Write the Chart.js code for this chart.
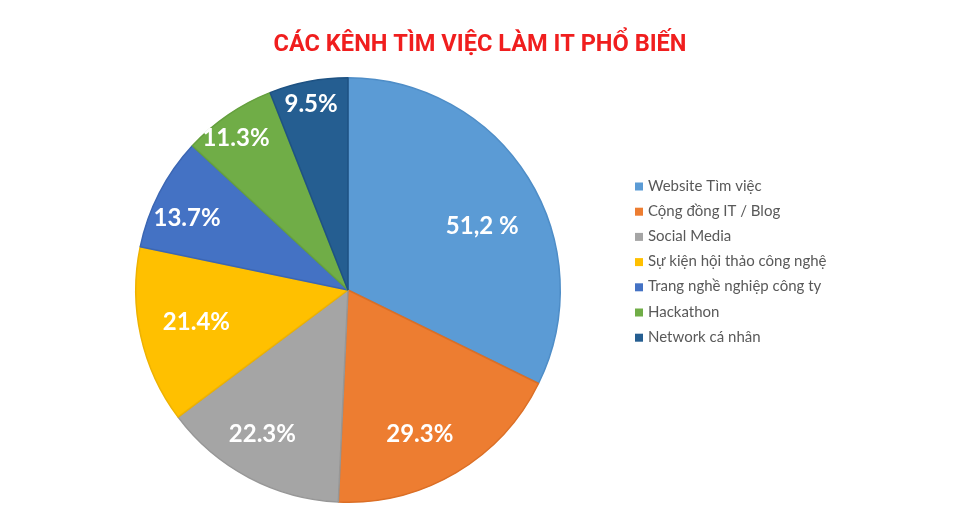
<!DOCTYPE html>
<html>
<head>
<meta charset="utf-8">
<script src="https://cdn.jsdelivr.net/npm/chart.js@4/dist/chart.umd.min.js"></script>
<style>
  html, body { margin: 0; padding: 0; background: #fff; }
  #wrap { width: 960px; height: 526px; }
</style>
</head>
<body>
<div id="wrap"><canvas id="pie" width="960" height="526"></canvas></div>
<script>
// data
var chartTitle = 'CÁC KÊNH TÌM VIỆC LÀM IT PHỔ BIẾN';
var categories = ['Website Tìm việc', 'Cộng đồng IT / Blog', 'Social Media', 'Sự kiện hội thảo công nghệ',
                  'Trang nghề nghiệp công ty', 'Hackathon', 'Network cá nhân'];
var shares = [51.2, 29.3, 22.3, 21.4, 13.7, 11.3, 9.5];
var shareLabels = ['51,2 %', '29.3%', '22.3%', '21.4%', '13.7%', '11.3%', '9.5%'];

var sliceColors = ['#5B9BD5', '#ED7D31', '#A5A5A5', '#FFC000', '#4472C4', '#70AD47', '#255E91'];
var sliceBorders = ['#4E8DC7', '#DB6F26', '#979797', '#EEB200', '#3B66B3', '#65A03E', '#1E5283'];

// where each label sits inside its slice (fraction of radius, angle nudge in degrees)
var labelRadius = [0.70, 0.76, 0.79, 0.73, 0.83, 0.89, 0.89];
var labelNudge = [6.6, 4.2, 2.8, 0.6, -3.3, -2.0, -0.5];

var sliceLabels = {
    id: 'sliceLabels',
    afterDatasetsDraw: function (chart) {
        var ctx = chart.ctx;
        var arcs = chart.getDatasetMeta(0).data;
        ctx.save();
        ctx.fillStyle = '#ffffff';
        ctx.font = 'bold 24px Lato';
        ctx.textAlign = 'center';
        ctx.textBaseline = 'middle';
        for (var i = 0; i < arcs.length; i++) {
            var a = arcs[i];
            var mid = (a.startAngle + a.endAngle) / 2 + labelNudge[i] * Math.PI / 180;
            var r = a.outerRadius * labelRadius[i];
            ctx.fillText(shareLabels[i], a.x + r * Math.cos(mid), a.y + r * Math.sin(mid));
        }
        ctx.restore();
    }
};

var titleAndLegend = {
    id: 'titleAndLegend',
    afterDraw: function (chart) {
        var ctx = chart.ctx;
        ctx.save();
        ctx.fillStyle = '#F01E1E';
        ctx.font = 'bold 23.6px Roboto';
        ctx.textAlign = 'center';
        ctx.textBaseline = 'alphabetic';
        ctx.fillText(chartTitle, 480, 51);

        ctx.font = '15px Lato';
        ctx.textAlign = 'left';
        for (var i = 0; i < categories.length; i++) {
            var base = 190.5 + i * 25.2;
            ctx.fillStyle = sliceColors[i];
            ctx.fillRect(635, base - 8, 8, 8);
            ctx.fillStyle = '#595959';
            ctx.fillText(categories[i], 648, base);
        }
        ctx.restore();
    }
};

var pieChart = new Chart(document.getElementById('pie').getContext('2d'), {
    type: 'pie',
    data: {
        labels: categories,
        datasets: [{
            data: shares,
            backgroundColor: sliceColors,
            borderColor: sliceBorders,
            borderWidth: 1.5
        }]
    },
    options: {
        responsive: false,
        animation: false,
        layout: { padding: { left: 135, right: 399, top: 77, bottom: 23 } },
        plugins: {
            legend: { display: false },
            title: { display: false },
            tooltip: { enabled: false }
        }
    },
    plugins: [sliceLabels, titleAndLegend]
});
</script>
</body>
</html>
